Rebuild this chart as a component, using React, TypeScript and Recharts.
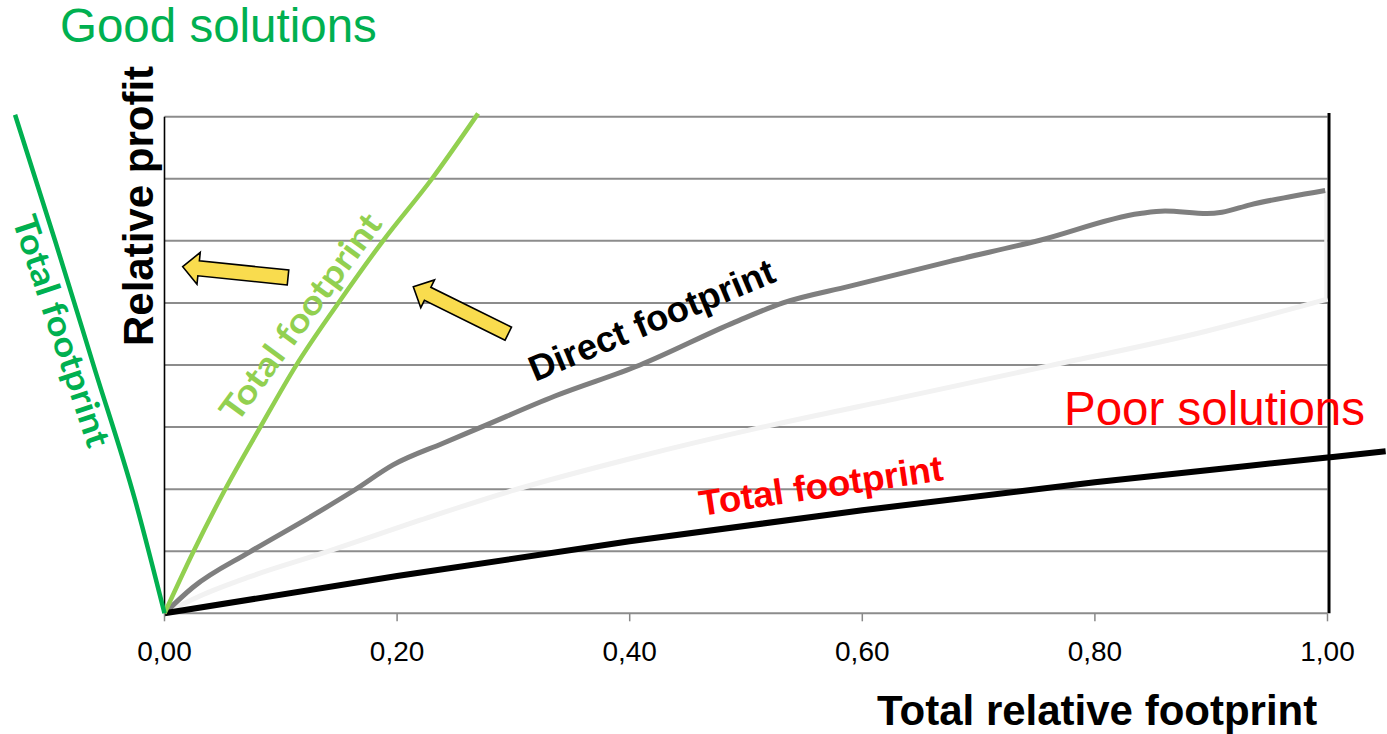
import React from 'react';
import { LineChart, Line, XAxis, YAxis, ReferenceLine } from 'recharts';

const W = 1387;
const H = 734;
const SANS = '"Liberation Sans", Arial, sans-serif';
const HUMANIST = 'Lato, "Open Sans", sans-serif';

// x axis ticks and horizontal grid levels
const xTicks = [0, 0.2, 0.4, 0.6, 0.8, 1];
const gridLevels = [0.1, 0.2, 0.3, 0.4, 0.5, 0.6, 0.7, 0.8];

// dark green: total footprint, good side (runs to the left of the axis)
const bestX = [-0.1285, -0.0942, -0.0606, -0.0254, 0];
const bestY = [0.803, 0.601, 0.397, 0.183, 0];

// light green: total footprint
const goodX = [0, 0.0245, 0.052, 0.0821, 0.1131, 0.1492, 0.1879, 0.23, 0.2696];
const goodY = [0, 0.098, 0.199, 0.299, 0.399, 0.499, 0.6, 0.7, 0.805];

// grey: direct footprint
const directX = [0, 0.0245, 0.0735, 0.1251, 0.1638, 0.1965, 0.2395, 0.2713, 0.3358, 0.4089, 0.4905, 0.5318, 0.5894, 0.6754, 0.7528, 0.8388, 0.8603, 0.8964, 0.9093, 0.9334, 0.9678, 0.998];
const directY = [0, 0.042, 0.099, 0.155, 0.199, 0.239, 0.274, 0.299, 0.35, 0.4, 0.469, 0.5, 0.527, 0.567, 0.601, 0.644, 0.648, 0.644, 0.646, 0.658, 0.671, 0.681];

// very light grey reference curve
const faintX = [0, 0.0305, 0.0735, 0.138, 0.2197, 0.3014, 0.4089, 0.512, 0.6324, 0.7614, 0.8904, 1.0];
const faintY = [0, 0.028, 0.059, 0.098, 0.15, 0.199, 0.253, 0.299, 0.347, 0.399, 0.452, 0.506];

// black: total footprint, poor side (continues past 1,00)
const poorX = [0, 0.2, 0.4, 0.6, 0.8, 1.0, 1.05];
const poorY = [0, 0.06, 0.116, 0.166, 0.211, 0.251, 0.261];

const toPoints = (xs: number[], ys: number[]) => xs.map((x, i) => ({ x, y: ys[i] }));

const X_DOMAIN: [number, number] = [-0.14144, 1.05116];
const Y_DOMAIN: [number, number] = [0, 0.98792];

const fmt = (v: number) => v.toFixed(2).replace('.', ',');

type Pt = [number, number];

function BlockArrow({ tail, tip, shaft, head, headLen }: { tail: Pt; tip: Pt; shaft: number; head: number; headLen: number }) {
  const dx = tip[0] - tail[0];
  const dy = tip[1] - tail[1];
  const len = Math.hypot(dx, dy);
  const ang = (Math.atan2(dy, dx) * 180) / Math.PI;
  const b = len - headLen;
  const pts = [
    [0, -shaft / 2],
    [b, -shaft / 2],
    [b, -head / 2],
    [len, 0],
    [b, head / 2],
    [b, shaft / 2],
    [0, shaft / 2],
  ]
    .map((p) => p.join(','))
    .join(' ');
  return (
    <polygon
      points={pts}
      transform={`translate(${tail[0]} ${tail[1]}) rotate(${ang})`}
      fill="#F9DC4E"
      stroke="#000"
      strokeWidth={1.6}
    />
  );
}

function Annotations() {
  return (
    <svg width={W} height={H} style={{ position: 'absolute', left: 0, top: 0, pointerEvents: 'none' }}>
      <text x={60} y={42} fontFamily={SANS} fontSize={47.5} fill="#00B050">Good solutions</text>
      <text x={1064} y={425} fontFamily={SANS} fontSize={47.5} fill="#FF0000">Poor solutions</text>

      <text transform="translate(153 346) rotate(-90)" fontFamily={SANS} fontSize={42} fontWeight="bold" fill="#000">
        Relative profit
      </text>
      <text x={877} y={725} fontFamily={SANS} fontSize={42} fontWeight="bold" fill="#000">
        Total relative footprint
      </text>

      <text transform="translate(12 220) rotate(71.6)" fontFamily={HUMANIST} fontSize={34} fontWeight="bold" fill="#00B050"
        textLength={242} lengthAdjust="spacingAndGlyphs">
        Total footprint
      </text>
      <text transform="translate(237 424) rotate(-53.8)" fontFamily={HUMANIST} fontSize={34} fontWeight="bold" fill="#92D050"
        textLength={248} lengthAdjust="spacingAndGlyphs">
        Total footprint
      </text>
      <text transform="translate(535 382) rotate(-22.6)" fontFamily={SANS} fontSize={36} fontWeight="bold" fill="#000"
        textLength={263} lengthAdjust="spacingAndGlyphs">
        Direct footprint
      </text>
      <text transform="translate(701 516) rotate(-8.4)" fontFamily={SANS} fontSize={36} fontWeight="bold" fill="#FF0000"
        textLength={246} lengthAdjust="spacingAndGlyphs">
        Total footprint
      </text>

      <BlockArrow tail={[288, 277.5]} tip={[182.7, 266.7]} shaft={15} head={32} headLen={16} />
      <BlockArrow tail={[508.3, 333.7]} tip={[413.3, 286.7]} shaft={14.5} head={31} headLen={16} />
    </svg>
  );
}

export default function App() {
  return (
    <div style={{ position: 'absolute', left: 0, top: 0, width: W, height: H, background: '#fff' }}>
      <LineChart width={W} height={H} margin={{ top: 0, right: 0, bottom: 0, left: 0 }}>
        <XAxis
          type="number"
          dataKey="x"
          domain={X_DOMAIN}
          ticks={xTicks}
          interval={0}
          tickFormatter={fmt}
          axisLine={false}
          tickLine={{ stroke: '#888', strokeWidth: 1.5 }}
          tickSize={8}
          tickMargin={20}
          tick={{ fill: '#000', fontSize: 28, fontFamily: SANS }}
          height={120.7}
        />
        <YAxis type="number" dataKey="y" domain={Y_DOMAIN} hide />

        {gridLevels.map((g) => (
          <ReferenceLine key={g} segment={[{ x: 0, y: g }, { x: 1, y: g }]} stroke="#8c8c8c" strokeWidth={2} />
        ))}
        <ReferenceLine segment={[{ x: 0, y: 0 }, { x: 1, y: 0 }]} stroke="#8c8c8c" strokeWidth={2} />
        <ReferenceLine segment={[{ x: 0, y: 0 }, { x: 0, y: 0.8 }]} stroke="#000" strokeWidth={1.6} />
        <ReferenceLine segment={[{ x: 0.9985, y: 0.506 }, { x: 0.9985, y: 0.68 }]} stroke="#F2F2F2" strokeWidth={3} />
        <ReferenceLine segment={[{ x: 1.0013, y: 0 }, { x: 1.0013, y: 0.806 }]} stroke="#000" strokeWidth={3} />

        <Line data={toPoints(faintX, faintY)} dataKey="y" type="monotone" stroke="#F2F2F2" strokeWidth={5}
          dot={false} activeDot={false} isAnimationActive={false} />
        <Line data={toPoints(directX, directY)} dataKey="y" type="monotone" stroke="#7F7F7F" strokeWidth={5}
          dot={false} activeDot={false} isAnimationActive={false} />
        <Line data={toPoints(poorX, poorY)} dataKey="y" type="monotone" stroke="#000" strokeWidth={6}
          dot={false} activeDot={false} isAnimationActive={false} />
        <Line data={toPoints(goodX, goodY)} dataKey="y" type="monotone" stroke="#92D050" strokeWidth={4.5}
          dot={false} activeDot={false} isAnimationActive={false} />
        <Line data={toPoints(bestX, bestY)} dataKey="y" type="monotone" stroke="#00B050" strokeWidth={4.5}
          dot={false} activeDot={false} isAnimationActive={false} />
      </LineChart>
      <Annotations />
    </div>
  );
}
